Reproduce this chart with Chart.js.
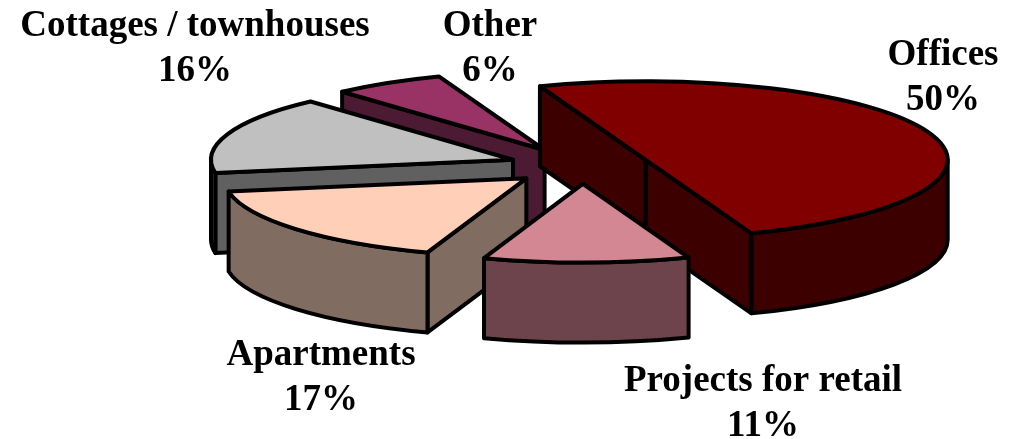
<!DOCTYPE html>
<html>
<head>
<meta charset="utf-8">
<title>Pie</title>
<script src="https://cdn.jsdelivr.net/npm/chart.js@4"></script>
<style>
  html, body { margin: 0; background: #fff; }
  canvas { display: block; }
</style>
</head>
<body>
<canvas id="pie" width="1018" height="439"></canvas>
<script>
const categories = ['Offices', 'Projects for retail', 'Apartments', 'Cottages / townhouses', 'Other'];
const shares = [50, 11, 17, 16, 6];
const topColors = ['#800000', '#D38793', '#FFCFB8', '#C0C0C0', '#993366'];
const wallColors = ['#3C0000', '#6E444C', '#806C60', '#606060', '#4C1A33'];

const TILT = 0.26;
const DEPTH = 80;
const OUTLINE = 4;

// pie controller that extrudes each arc element into a tilted wedge
class Pie3dController extends Chart.PieController {
  static id = 'pie3d';

  draw() {
    const ctx = this.chart.ctx;
    const ds = this.getDataset();
    const wedges = this.getMeta().data.map((arc, i) => {
      const { x, y, startAngle, endAngle, outerRadius, options } = arc.getProps(
        ['x', 'y', 'startAngle', 'endAngle', 'outerRadius', 'options'], true);
      const mid = (startAngle + endAngle) / 2;
      return {
        cx: x + Math.cos(mid) * options.offset,
        cy: y + Math.sin(mid) * options.offset * TILT,
        r: outerRadius, a0: startAngle, a1: endAngle,
        top: ds.backgroundColor[i], wall: ds.wallColor[i],
      };
    });

    ctx.save();
    ctx.lineWidth = OUTLINE;
    ctx.lineJoin = 'round';
    ctx.strokeStyle = '#000';
    // back to front
    wedges.sort((p, q) => p.cy - q.cy).forEach(w => this.drawWedge(ctx, w));
    ctx.restore();
  }

  drawWedge(ctx, w) {
    const paint = fill => {
      ctx.fillStyle = fill;
      ctx.fill();
      ctx.stroke();
    };
    const radial = a => {
      const px = w.cx + Math.cos(a) * w.r;
      const py = w.cy + Math.sin(a) * w.r * TILT;
      ctx.beginPath();
      ctx.moveTo(w.cx, w.cy);
      ctx.lineTo(px, py);
      ctx.lineTo(px, py + DEPTH);
      ctx.lineTo(w.cx, w.cy + DEPTH);
      ctx.closePath();
      paint(w.wall);
    };

    // cut faces, only the ones turned to the viewer
    if (Math.sin(w.a0 - Math.PI / 2) > 0) radial(w.a0);
    if (Math.sin(w.a1 + Math.PI / 2) > 0) radial(w.a1);

    // rim, clipped to the front half of the ellipse
    [-2, 0, 2].forEach(k => {
      const lo = Math.max(w.a0, k * Math.PI);
      const hi = Math.min(w.a1, (k + 1) * Math.PI);
      if (hi <= lo) return;
      ctx.beginPath();
      ctx.ellipse(w.cx, w.cy, w.r, w.r * TILT, 0, lo, hi);
      ctx.ellipse(w.cx, w.cy + DEPTH, w.r, w.r * TILT, 0, hi, lo, true);
      ctx.closePath();
      paint(w.wall);
    });

    ctx.beginPath();
    ctx.moveTo(w.cx, w.cy);
    ctx.ellipse(w.cx, w.cy, w.r, w.r * TILT, 0, w.a0, w.a1);
    ctx.closePath();
    paint(w.top);
  }
}
Chart.register(Pie3dController);

// two line category / percent captions
const sliceCaptions = {
  id: 'sliceCaptions',
  afterDatasetsDraw(chart, args, opts) {
    const { ctx } = chart;
    ctx.save();
    ctx.font = opts.font;
    ctx.fillStyle = '#000';
    ctx.textAlign = 'center';
    ctx.textBaseline = 'alphabetic';
    chart.data.labels.forEach((label, i) => {
      const [x, y] = opts.anchors[i];
      ctx.fillText(label, x, y);
      ctx.fillText(chart.data.datasets[0].data[i] + '%', x, y + opts.lineGap);
    });
    ctx.restore();
  },
};

new Chart(document.getElementById('pie'), {
  type: 'pie3d',
  plugins: [sliceCaptions],
  data: {
    labels: categories,
    datasets: [{
      data: shares,
      backgroundColor: topColors,
      wallColor: wallColors,
      offset: [68, 69, 73, 73, 72],
      hoverOffset: 0,
      borderWidth: 0,
    }],
  },
  options: {
    responsive: false,
    animation: false,
    events: [],
    radius: 302,
    rotation: -20.5,
    layout: { padding: { left: 146, bottom: 107 } },
    plugins: {
      legend: { display: false },
      tooltip: { enabled: false },
      sliceCaptions: {
        font: 'bold 37px "Liberation Serif"',
        lineGap: 45,
        anchors: [[943, 65], [763, 391], [321, 365], [195, 36], [490, 36]],
      },
    },
  },
});
</script>
</body>
</html>
